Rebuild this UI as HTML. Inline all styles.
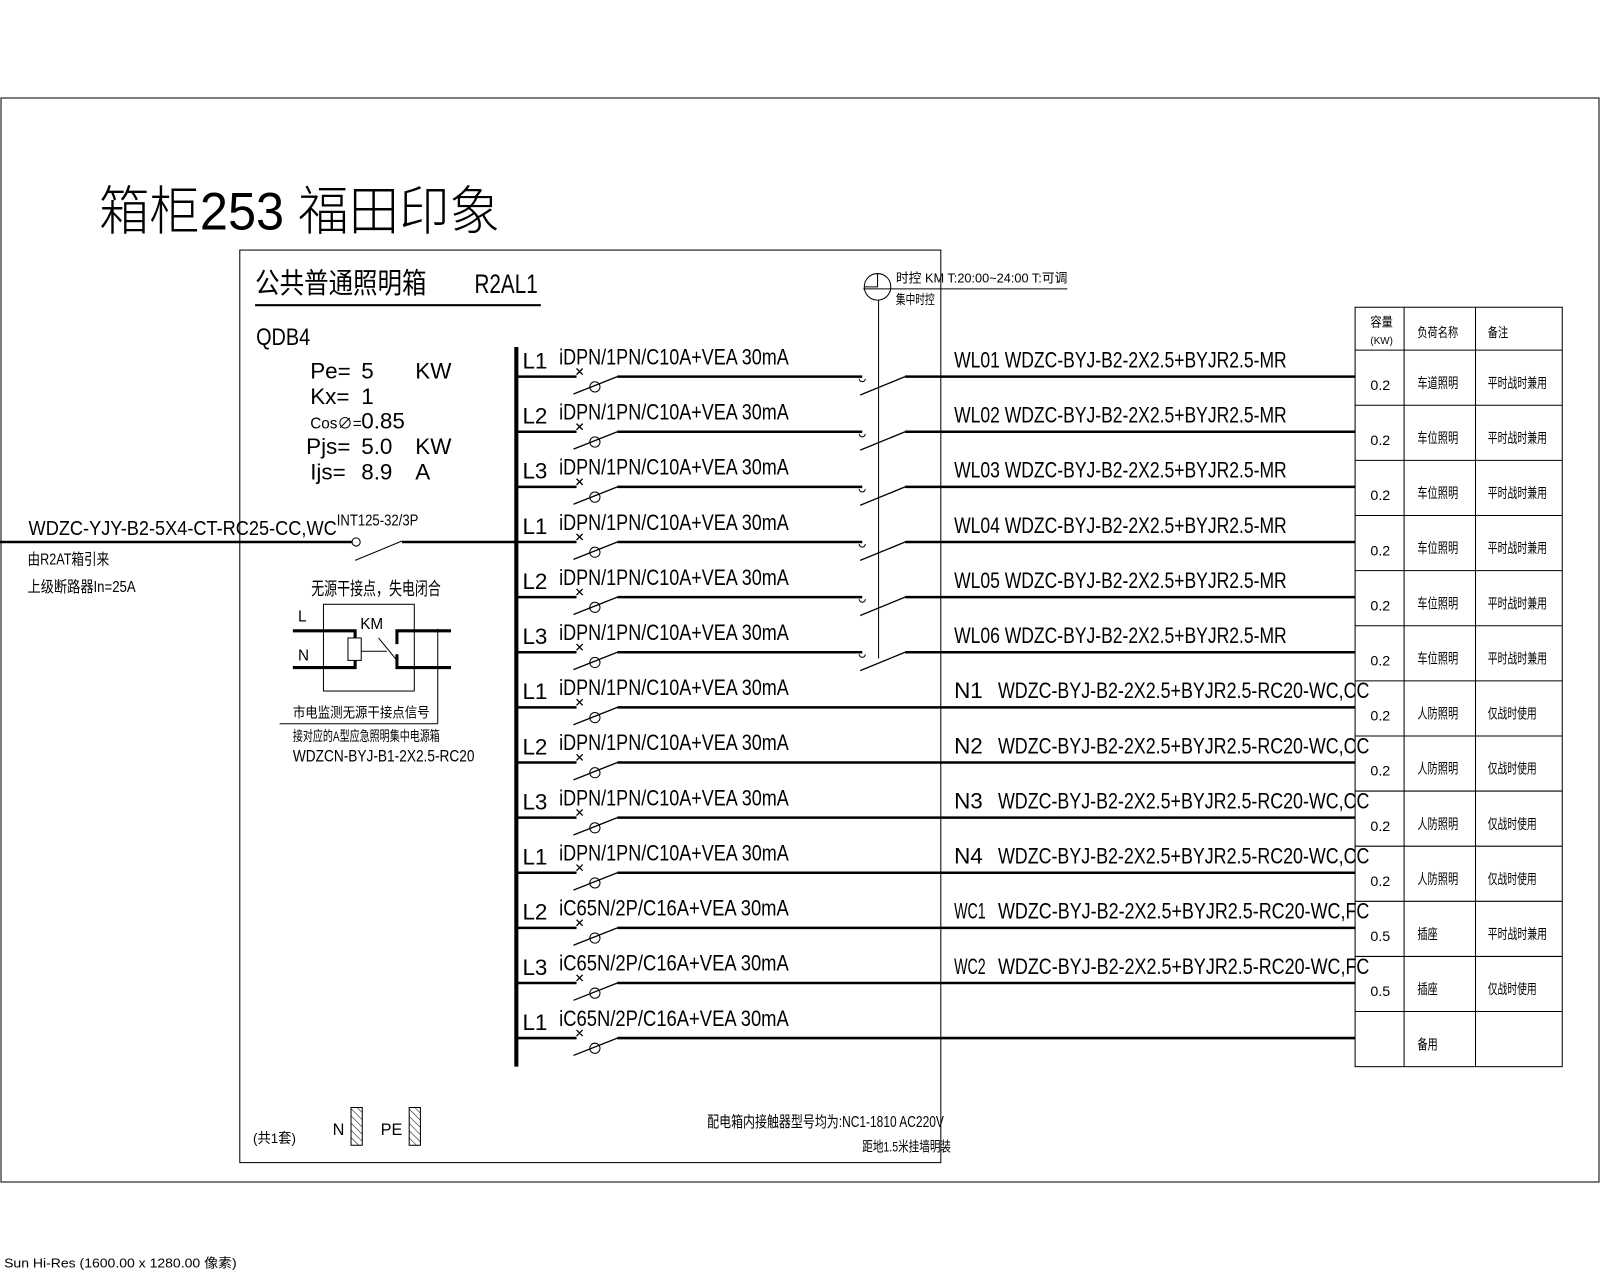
<!DOCTYPE html>
<html><head><meta charset="utf-8"><style>
html,body{margin:0;padding:0;background:#fff;}
svg{display:block}
text{font-family:"Liberation Sans","Noto Sans CJK SC",sans-serif;fill:#000}
</style></head><body>
<svg width="1600" height="1280" viewBox="0 0 1568 1254" preserveAspectRatio="none" xmlns="http://www.w3.org/2000/svg">
<defs>
<pattern id="h" width="5" height="5" patternUnits="userSpaceOnUse" patternTransform="rotate(-45)"><line x1="0" y1="0" x2="0" y2="5" stroke="#000" stroke-width="1"/></pattern>
</defs>
<rect x="1" y="96" width="1566" height="1062" fill="none" stroke="#000" stroke-width="1"/>
<text x="97" y="225" font-size="52" font-weight="300" textLength="393" lengthAdjust="spacingAndGlyphs">箱柜253 福田印象</text>
<rect x="235" y="245" width="687" height="894" fill="none" stroke="#000" stroke-width="1"/>
<text x="250" y="287" font-size="28" textLength="168" lengthAdjust="spacingAndGlyphs">公共普通照明箱</text>
<text x="465" y="287" font-size="26" textLength="62" lengthAdjust="spacingAndGlyphs">R2AL1</text>
<line x1="250" y1="299" x2="530" y2="299" stroke="#000" stroke-width="2"/>
<text x="251" y="338" font-size="24" textLength="53" lengthAdjust="spacingAndGlyphs">QDB4</text>
<g font-size="22">
<text x="304" y="371">Pe=</text><text x="354" y="371">5</text><text x="407" y="371">KW</text>
<text x="304" y="396">Kx=</text><text x="354" y="396">1</text>
<text x="304" y="420" font-size="15">Cos∅=</text><text x="354" y="420">0.85</text>
<text x="300" y="445">Pjs=</text><text x="354" y="445">5.0</text><text x="407" y="445">KW</text>
<text x="304" y="470">Ijs=</text><text x="354" y="470">8.9</text><text x="407" y="470">A</text>
</g>
<text x="28" y="524" font-size="20" textLength="302" lengthAdjust="spacingAndGlyphs">WDZC-YJY-B2-5X4-CT-RC25-CC,WC</text>
<text x="330" y="515" font-size="15" textLength="80" lengthAdjust="spacingAndGlyphs">INT125-32/3P</text>
<line x1="0" y1="531" x2="345" y2="531" stroke="#000" stroke-width="2.5"/>
<circle cx="349" cy="531" r="4" fill="#fff" stroke="#000"/>
<line x1="348" y1="549" x2="394" y2="530" stroke="#000" stroke-width="1"/>
<line x1="394" y1="531" x2="506" y2="531" stroke="#000" stroke-width="2.5"/>
<text x="27" y="553" font-size="15" textLength="80" lengthAdjust="spacingAndGlyphs">由R2AT箱引来</text>
<text x="27" y="580" font-size="15" textLength="106" lengthAdjust="spacingAndGlyphs">上级断路器In=25A</text>
<text x="305" y="583" font-size="18" textLength="127" lengthAdjust="spacingAndGlyphs">无源干接点，失电闭合</text>
<rect x="317" y="592" width="89" height="85" fill="none" stroke="#000"/>
<text x="292" y="609" font-size="15">L</text>
<text x="292" y="647" font-size="15">N</text>
<text x="353" y="616" font-size="15">KM</text>
<g stroke="#000" stroke-width="3" fill="none">
<polyline points="287,618 348,618 348,625"/>
<polyline points="287,654 348,654 348,647"/>
<polyline points="442,618 389,618 389,631"/>
<polyline points="442,654 389,654 389,641"/>
</g>
<rect x="341" y="625" width="13" height="22" fill="none" stroke="#000"/>
<line x1="354" y1="638" x2="379" y2="638" stroke="#000"/>
<line x1="371" y1="625" x2="389" y2="647" stroke="#000"/>
<line x1="429" y1="616" x2="429" y2="709" stroke="#000"/>
<line x1="274" y1="709" x2="429" y2="709" stroke="#000"/>
<text x="287" y="703" font-size="14" textLength="134" lengthAdjust="spacingAndGlyphs">市电监测无源干接点信号</text>
<text x="287" y="726" font-size="14" textLength="144" lengthAdjust="spacingAndGlyphs">接对应的A型应急照明集中电源箱</text>
<text x="287" y="746" font-size="16" textLength="178" lengthAdjust="spacingAndGlyphs">WDZCN-BYJ-B1-2X2.5-RC20</text>
<line x1="506" y1="340" x2="506" y2="1045" stroke="#000" stroke-width="4"/>
<line x1="861" y1="294" x2="861" y2="645" stroke="#000"/>
<circle cx="860" cy="281" r="13" fill="none" stroke="#000"/>
<polyline points="860,268 860,281 847,281" fill="none" stroke="#000"/>
<line x1="846" y1="283" x2="1046" y2="283" stroke="#000"/>
<text x="878" y="277" font-size="13" textLength="168" lengthAdjust="spacingAndGlyphs">时控 KM T:20:00~24:00 T:可调</text>
<text x="878" y="298" font-size="13" textLength="38" lengthAdjust="spacingAndGlyphs">集中时控</text>
<rect x="1328" y="301" width="203" height="744" fill="none" stroke="#000"/>
<g stroke="#000">
<line x1="1376" y1="301" x2="1376" y2="1045"/><line x1="1446" y1="301" x2="1446" y2="1045"/>
<line x1="1328" y1="343" x2="1531" y2="343"/><line x1="1328" y1="397" x2="1531" y2="397"/><line x1="1328" y1="451" x2="1531" y2="451"/><line x1="1328" y1="505" x2="1531" y2="505"/><line x1="1328" y1="559" x2="1531" y2="559"/><line x1="1328" y1="613" x2="1531" y2="613"/><line x1="1328" y1="667" x2="1531" y2="667"/><line x1="1328" y1="721" x2="1531" y2="721"/><line x1="1328" y1="775" x2="1531" y2="775"/><line x1="1328" y1="829" x2="1531" y2="829"/><line x1="1328" y1="883" x2="1531" y2="883"/><line x1="1328" y1="937" x2="1531" y2="937"/><line x1="1328" y1="991" x2="1531" y2="991"/>
</g>
<text x="1343" y="320" font-size="13" textLength="22" lengthAdjust="spacingAndGlyphs">容量</text>
<text x="1343" y="337" font-size="10" textLength="22" lengthAdjust="spacingAndGlyphs">(KW)</text>
<text x="1389" y="330" font-size="13" textLength="40" lengthAdjust="spacingAndGlyphs">负荷名称</text>
<text x="1458" y="330" font-size="13" textLength="20" lengthAdjust="spacingAndGlyphs">备注</text>
<g font-size="14">
<text x="1343" y="382">0.2</text><text x="1389" y="380" textLength="40" lengthAdjust="spacingAndGlyphs">车道照明</text><text x="1458" y="380" textLength="58" lengthAdjust="spacingAndGlyphs">平时战时兼用</text>
<text x="1343" y="436">0.2</text><text x="1389" y="434" textLength="40" lengthAdjust="spacingAndGlyphs">车位照明</text><text x="1458" y="434" textLength="58" lengthAdjust="spacingAndGlyphs">平时战时兼用</text>
<text x="1343" y="490">0.2</text><text x="1389" y="488" textLength="40" lengthAdjust="spacingAndGlyphs">车位照明</text><text x="1458" y="488" textLength="58" lengthAdjust="spacingAndGlyphs">平时战时兼用</text>
<text x="1343" y="544">0.2</text><text x="1389" y="542" textLength="40" lengthAdjust="spacingAndGlyphs">车位照明</text><text x="1458" y="542" textLength="58" lengthAdjust="spacingAndGlyphs">平时战时兼用</text>
<text x="1343" y="598">0.2</text><text x="1389" y="596" textLength="40" lengthAdjust="spacingAndGlyphs">车位照明</text><text x="1458" y="596" textLength="58" lengthAdjust="spacingAndGlyphs">平时战时兼用</text>
<text x="1343" y="652">0.2</text><text x="1389" y="650" textLength="40" lengthAdjust="spacingAndGlyphs">车位照明</text><text x="1458" y="650" textLength="58" lengthAdjust="spacingAndGlyphs">平时战时兼用</text>
<text x="1343" y="706">0.2</text><text x="1389" y="704" textLength="40" lengthAdjust="spacingAndGlyphs">人防照明</text><text x="1458" y="704" textLength="48" lengthAdjust="spacingAndGlyphs">仅战时使用</text>
<text x="1343" y="760">0.2</text><text x="1389" y="758" textLength="40" lengthAdjust="spacingAndGlyphs">人防照明</text><text x="1458" y="758" textLength="48" lengthAdjust="spacingAndGlyphs">仅战时使用</text>
<text x="1343" y="814">0.2</text><text x="1389" y="812" textLength="40" lengthAdjust="spacingAndGlyphs">人防照明</text><text x="1458" y="812" textLength="48" lengthAdjust="spacingAndGlyphs">仅战时使用</text>
<text x="1343" y="868">0.2</text><text x="1389" y="866" textLength="40" lengthAdjust="spacingAndGlyphs">人防照明</text><text x="1458" y="866" textLength="48" lengthAdjust="spacingAndGlyphs">仅战时使用</text>
<text x="1343" y="922">0.5</text><text x="1389" y="920" textLength="20" lengthAdjust="spacingAndGlyphs">插座</text><text x="1458" y="920" textLength="58" lengthAdjust="spacingAndGlyphs">平时战时兼用</text>
<text x="1343" y="976">0.5</text><text x="1389" y="974" textLength="20" lengthAdjust="spacingAndGlyphs">插座</text><text x="1458" y="974" textLength="48" lengthAdjust="spacingAndGlyphs">仅战时使用</text>
<text x="1389" y="1028" textLength="20" lengthAdjust="spacingAndGlyphs">备用</text>
</g>
<g stroke="#000" fill="none">
<path stroke-width="2.5" d="M506 369H565M605 369H845M887 369H1328 M506 423H565M605 423H845M887 423H1328 M506 477H565M605 477H845M887 477H1328 M506 531H565M605 531H845M887 531H1328 M506 585H565M605 585H845M887 585H1328 M506 639H565M605 639H845M887 639H1328 M506 693H565M605 693H1328 M506 747H565M605 747H1328 M506 801H565M605 801H1328 M506 855H565M605 855H1328 M506 909H565M605 909H1328 M506 963H565M605 963H1328 M506 1017H565M605 1017H1328"/>
<path stroke-width="1.3" d="M562 386L605 369M562 440L605 423M562 494L605 477M562 548L605 531M562 602L605 585M562 656L605 639M562 710L605 693M562 764L605 747M562 818L605 801M562 872L605 855M562 926L605 909M562 980L605 963M562 1034L605 1017
M843 387L887 369M843 441L887 423M843 495L887 477M843 549L887 531M843 603L887 585M843 657L887 639
M565 361l6 6m0 -6l-6 6M565 415l6 6m0 -6l-6 6M565 469l6 6m0 -6l-6 6M565 523l6 6m0 -6l-6 6M565 577l6 6m0 -6l-6 6M565 631l6 6m0 -6l-6 6M565 685l6 6m0 -6l-6 6M565 739l6 6m0 -6l-6 6M565 793l6 6m0 -6l-6 6M565 847l6 6m0 -6l-6 6M565 901l6 6m0 -6l-6 6M565 955l6 6m0 -6l-6 6M565 1009l6 6m0 -6l-6 6"/>
<g stroke-width="1">
<circle cx="583" cy="379" r="5"/><circle cx="583" cy="433" r="5"/><circle cx="583" cy="487" r="5"/><circle cx="583" cy="541" r="5"/><circle cx="583" cy="595" r="5"/><circle cx="583" cy="649" r="5"/><circle cx="583" cy="703" r="5"/><circle cx="583" cy="757" r="5"/><circle cx="583" cy="811" r="5"/><circle cx="583" cy="865" r="5"/><circle cx="583" cy="919" r="5"/><circle cx="583" cy="973" r="5"/><circle cx="583" cy="1027" r="5"/>
<path d="M842 371a3 3 0 0 0 6 0M842 425a3 3 0 0 0 6 0M842 479a3 3 0 0 0 6 0M842 533a3 3 0 0 0 6 0M842 587a3 3 0 0 0 6 0M842 641a3 3 0 0 0 6 0"/>
</g>
</g>
<g font-size="22">
<text x="512" y="361">L1</text><text x="512" y="415">L2</text><text x="512" y="469">L3</text><text x="512" y="523">L1</text><text x="512" y="577">L2</text><text x="512" y="631">L3</text><text x="512" y="685">L1</text><text x="512" y="739">L2</text><text x="512" y="793">L3</text><text x="512" y="847">L1</text><text x="512" y="901">L2</text><text x="512" y="955">L3</text><text x="512" y="1009">L1</text>
<text x="548" y="357" textLength="225" lengthAdjust="spacingAndGlyphs">iDPN/1PN/C10A+VEA 30mA</text>
<text x="548" y="411" textLength="225" lengthAdjust="spacingAndGlyphs">iDPN/1PN/C10A+VEA 30mA</text>
<text x="548" y="465" textLength="225" lengthAdjust="spacingAndGlyphs">iDPN/1PN/C10A+VEA 30mA</text>
<text x="548" y="519" textLength="225" lengthAdjust="spacingAndGlyphs">iDPN/1PN/C10A+VEA 30mA</text>
<text x="548" y="573" textLength="225" lengthAdjust="spacingAndGlyphs">iDPN/1PN/C10A+VEA 30mA</text>
<text x="548" y="627" textLength="225" lengthAdjust="spacingAndGlyphs">iDPN/1PN/C10A+VEA 30mA</text>
<text x="548" y="681" textLength="225" lengthAdjust="spacingAndGlyphs">iDPN/1PN/C10A+VEA 30mA</text>
<text x="548" y="735" textLength="225" lengthAdjust="spacingAndGlyphs">iDPN/1PN/C10A+VEA 30mA</text>
<text x="548" y="789" textLength="225" lengthAdjust="spacingAndGlyphs">iDPN/1PN/C10A+VEA 30mA</text>
<text x="548" y="843" textLength="225" lengthAdjust="spacingAndGlyphs">iDPN/1PN/C10A+VEA 30mA</text>
<text x="548" y="897" textLength="225" lengthAdjust="spacingAndGlyphs">iC65N/2P/C16A+VEA 30mA</text>
<text x="548" y="951" textLength="225" lengthAdjust="spacingAndGlyphs">iC65N/2P/C16A+VEA 30mA</text>
<text x="548" y="1005" textLength="225" lengthAdjust="spacingAndGlyphs">iC65N/2P/C16A+VEA 30mA</text>
<text x="935" y="360" textLength="326" lengthAdjust="spacingAndGlyphs">WL01 WDZC-BYJ-B2-2X2.5+BYJR2.5-MR</text>
<text x="935" y="414" textLength="326" lengthAdjust="spacingAndGlyphs">WL02 WDZC-BYJ-B2-2X2.5+BYJR2.5-MR</text>
<text x="935" y="468" textLength="326" lengthAdjust="spacingAndGlyphs">WL03 WDZC-BYJ-B2-2X2.5+BYJR2.5-MR</text>
<text x="935" y="522" textLength="326" lengthAdjust="spacingAndGlyphs">WL04 WDZC-BYJ-B2-2X2.5+BYJR2.5-MR</text>
<text x="935" y="576" textLength="326" lengthAdjust="spacingAndGlyphs">WL05 WDZC-BYJ-B2-2X2.5+BYJR2.5-MR</text>
<text x="935" y="630" textLength="326" lengthAdjust="spacingAndGlyphs">WL06 WDZC-BYJ-B2-2X2.5+BYJR2.5-MR</text>
<text x="935" y="684">N1</text><text x="978" y="684" textLength="364" lengthAdjust="spacingAndGlyphs">WDZC-BYJ-B2-2X2.5+BYJR2.5-RC20-WC,CC</text>
<text x="935" y="738">N2</text><text x="978" y="738" textLength="364" lengthAdjust="spacingAndGlyphs">WDZC-BYJ-B2-2X2.5+BYJR2.5-RC20-WC,CC</text>
<text x="935" y="792">N3</text><text x="978" y="792" textLength="364" lengthAdjust="spacingAndGlyphs">WDZC-BYJ-B2-2X2.5+BYJR2.5-RC20-WC,CC</text>
<text x="935" y="846">N4</text><text x="978" y="846" textLength="364" lengthAdjust="spacingAndGlyphs">WDZC-BYJ-B2-2X2.5+BYJR2.5-RC20-WC,CC</text>
<text x="935" y="900" textLength="31" lengthAdjust="spacingAndGlyphs">WC1</text><text x="978" y="900" textLength="364" lengthAdjust="spacingAndGlyphs">WDZC-BYJ-B2-2X2.5+BYJR2.5-RC20-WC,FC</text>
<text x="935" y="954" textLength="31" lengthAdjust="spacingAndGlyphs">WC2</text><text x="978" y="954" textLength="364" lengthAdjust="spacingAndGlyphs">WDZC-BYJ-B2-2X2.5+BYJR2.5-RC20-WC,FC</text>
</g>
<text x="248" y="1120" font-size="14" textLength="42" lengthAdjust="spacingAndGlyphs">(共1套)</text>
<text x="326" y="1112" font-size="16">N</text>
<rect x="344" y="1085" width="11" height="37" fill="url(#h)" stroke="#000"/>
<text x="373" y="1112" font-size="16">PE</text>
<rect x="401" y="1085" width="11" height="37" fill="url(#h)" stroke="#000"/>
<text x="693" y="1104" font-size="15" textLength="232" lengthAdjust="spacingAndGlyphs">配电箱内接触器型号均为:NC1-1810 AC220V</text>
<text x="845" y="1128" font-size="14" textLength="87" lengthAdjust="spacingAndGlyphs">距地1.5米挂墙明装</text>
<text x="4" y="1242" font-size="13" fill="#333" textLength="228" lengthAdjust="spacingAndGlyphs">Sun Hi-Res (1600.00 x 1280.00 像素)</text>
</svg>
</body></html>
